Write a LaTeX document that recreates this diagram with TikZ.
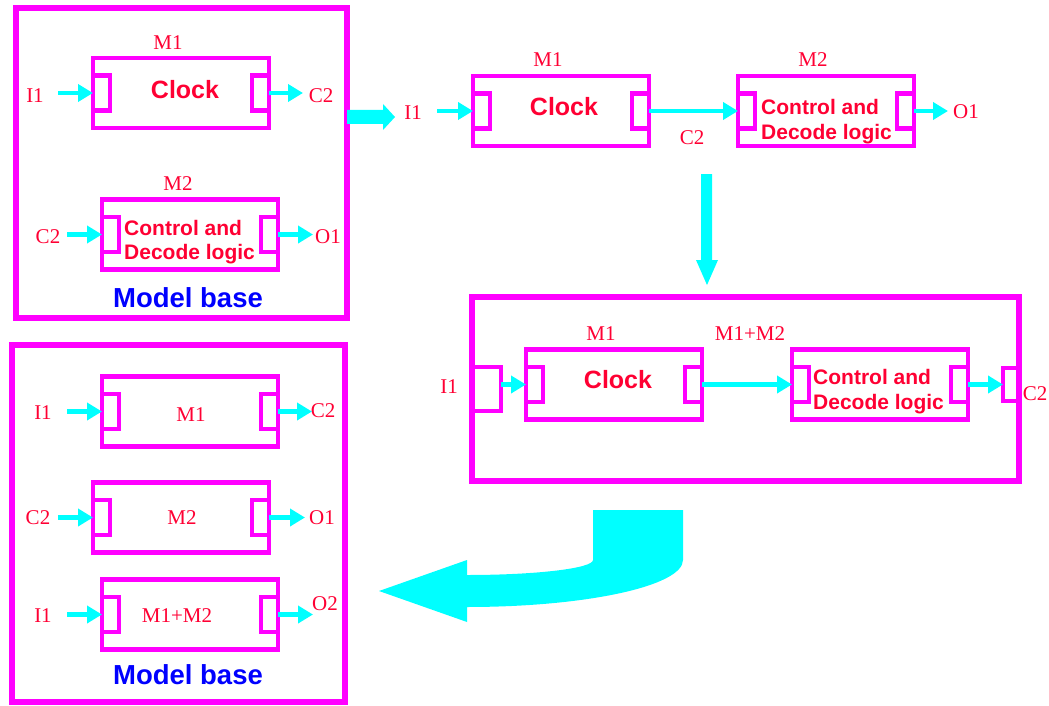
\documentclass[tikz,border=0pt]{standalone}
\usepackage{fontspec}
\setmainfont{Liberation Serif}
\setsansfont{Liberation Sans}
\usetikzlibrary{arrows.meta}
\definecolor{mag}{RGB}{255,0,255}
\definecolor{cy}{RGB}{0,255,255}
\definecolor{tred}{RGB}{255,0,51}
\definecolor{tblue}{RGB}{0,0,255}
\tikzset{
 mbox/.style={draw=mag, line width=4.5pt, minimum width=176pt, minimum height=70pt, inner sep=0pt, outer sep=0pt},
 port/.style={draw=mag, line width=4.5pt, minimum width=17pt, minimum height=35pt, inner sep=0pt, outer sep=0pt},
 frame/.style={draw=mag, line width=6pt, inner sep=0pt, outer sep=0pt},
 lbl/.style={text=tred, font=\fontsize{21}{25}\selectfont, inner sep=0pt},
 big/.style={text=tred, font=\sffamily\bfseries\fontsize{25}{30}\selectfont, inner sep=0pt},
 cdl/.style={text=tred, font=\sffamily\bfseries\fontsize{21}{24.5}\selectfont, inner sep=0pt, align=left, anchor=west},
 mb/.style={text=tblue, font=\sffamily\bfseries\fontsize{27.5}{33}\selectfont, inner sep=0pt},
 arr/.style={draw=cy, line width=4.5pt, -{Triangle[length=15pt,width=17pt]}},
}
\newcommand\modl[3]{%
 \node[mbox] (#1) at (#2,#3) {};
 \node[port] (#1L) at ({#2-79.5},#3) {};
 \node[port] (#1R) at ({#2+79.5},#3) {};
}
\begin{document}
\begin{tikzpicture}[x=1pt,y=-1pt]
\useasboundingbox (0,0) rectangle (1049,706);
% ---------- top-left model base ----------
\node[frame, minimum width=331pt, minimum height=309.5pt] (fTL) at (181.5,163.25) {};
\modl{a1}{181}{93}
\modl{a2}{190}{234.5}
\node[lbl] (a1n) at (168,43) {M1};
\node[big] (a1t) at (185,90) {Clock};
\node[lbl] (a1i) at (35,96) {I1};
\node[lbl] (a1o) at (321,96) {C2};
\coordinate (a1is) at (58,93);
\coordinate (a1oe) at (303,93);
\draw[arr] (a1is) -- (a1L.west);
\draw[arr] (a1R.east) -- (a1oe);
\node[lbl] (a2n) at (178,184) {M2};
\node[cdl] (a2t) at (124,242) {Control and\\Decode logic};
\node[lbl] (a2i) at (48,237) {C2};
\node[lbl] (a2o) at (328,237) {O1};
\coordinate (a2is) at (67,234.5);
\coordinate (a2oe) at (313,234.5);
\draw[arr] (a2is) -- (a2L.west);
\draw[arr] (a2R.east) -- (a2oe);
\node[mb] (mb1) at (188,298) {Model base};
% block arrow right
\fill[cy] (347,110) -- (383,110) -- (383,104) -- (395,117) -- (383,130) -- (383,124) -- (347,124) -- cycle;
% ---------- top-right chain ----------
\modl{b1}{561}{111}
\modl{b2}{826}{111}
\node[lbl] (b1i) at (413,113) {I1};
\node[lbl] (b1n) at (548,60) {M1};
\node[big] (b1t) at (564,107) {Clock};
\node[lbl] (b12) at (692,138) {C2};
\node[lbl] (b2n) at (813,60) {M2};
\node[cdl] (b2t) at (761,121.5) {Control and\\Decode logic};
\node[lbl] (b2o) at (966,112) {O1};
\coordinate (b1is) at (437,111);
\coordinate (b2oe) at (948,111);
\draw[arr] (b1is) -- (b1L.west);
\draw[arr] (b1R.east) -- (b2L.west);
\draw[arr] (b2R.east) -- (b2oe);
% down arrow
\fill[cy] (701,174) -- (712,174) -- (712,260) -- (718,260) -- (707,285) -- (696,260) -- (701,260) -- cycle;
% ---------- coupled model ----------
\node[frame, minimum width=547pt, minimum height=184pt] (fC) at (745.5,389) {};
\node[port, minimum width=29pt, minimum height=44pt] (cpL) at (486.5,389) {};
\node[port, minimum width=16pt, minimum height=33pt] (cpR) at (1011,384.5) {};
\modl{c1}{614}{384.5}
\modl{c2}{880}{384.5}
\node[lbl] (ci) at (449,387) {I1};
\node[lbl] (c1n) at (601,334) {M1};
\node[big] (c1t) at (618,380) {Clock};
\node[lbl] (c12) at (750,334) {M1+M2};
\node[cdl] (c2t) at (813,391.5) {Control and\\Decode logic};
\node[lbl] (co) at (1035,394) {C2};
\draw[arr] (cpL.east |- c1L.west) -- (c1L.west);
\draw[arr] (c1R.east) -- (c2L.west);
\draw[arr] (c2R.east) -- (cpR.west);
% curved arrow
\fill[cy] (593,510) -- (683,510) -- (683,560) .. controls (683,586) and (586,607) .. (467,607) -- (467,622) -- (379,591) -- (467,560) -- (467,575) .. controls (536.6,575) and (593,568.3) .. (593,560) -- cycle;
% ---------- bottom-left model base ----------
\node[frame, minimum width=333pt, minimum height=357pt] (fBL) at (178.5,523.5) {};
\modl{d1}{190}{411.5}
\modl{d2}{181}{517.5}
\modl{d3}{190}{614.5}
\node[lbl] (d1t) at (191,415) {M1};
\node[lbl] (d1i) at (43,413) {I1};
\node[lbl] (d1o) at (323,411) {C2};
\coordinate (d1is) at (67,411.5);
\coordinate (d1oe) at (312,411.5);
\draw[arr] (d1is) -- (d1L.west);
\draw[arr] (d1R.east) -- (d1oe);
\node[lbl] (d2t) at (182,518) {M2};
\node[lbl] (d2i) at (38,518) {C2};
\node[lbl] (d2o) at (322,518) {O1};
\coordinate (d2is) at (58,517.5);
\coordinate (d2oe) at (305,517.5);
\draw[arr] (d2is) -- (d2L.west);
\draw[arr] (d2R.east) -- (d2oe);
\node[lbl] (d3t) at (177,616) {M1+M2};
\node[lbl] (d3i) at (43,616) {I1};
\node[lbl] (d3o) at (325,604) {O2};
\coordinate (d3is) at (67,614.5);
\coordinate (d3oe) at (313,614.5);
\draw[arr] (d3is) -- (d3L.west);
\draw[arr] (d3R.east) -- (d3oe);
\node[mb] (mb2) at (188,675) {Model base};
\end{tikzpicture}
\end{document}
